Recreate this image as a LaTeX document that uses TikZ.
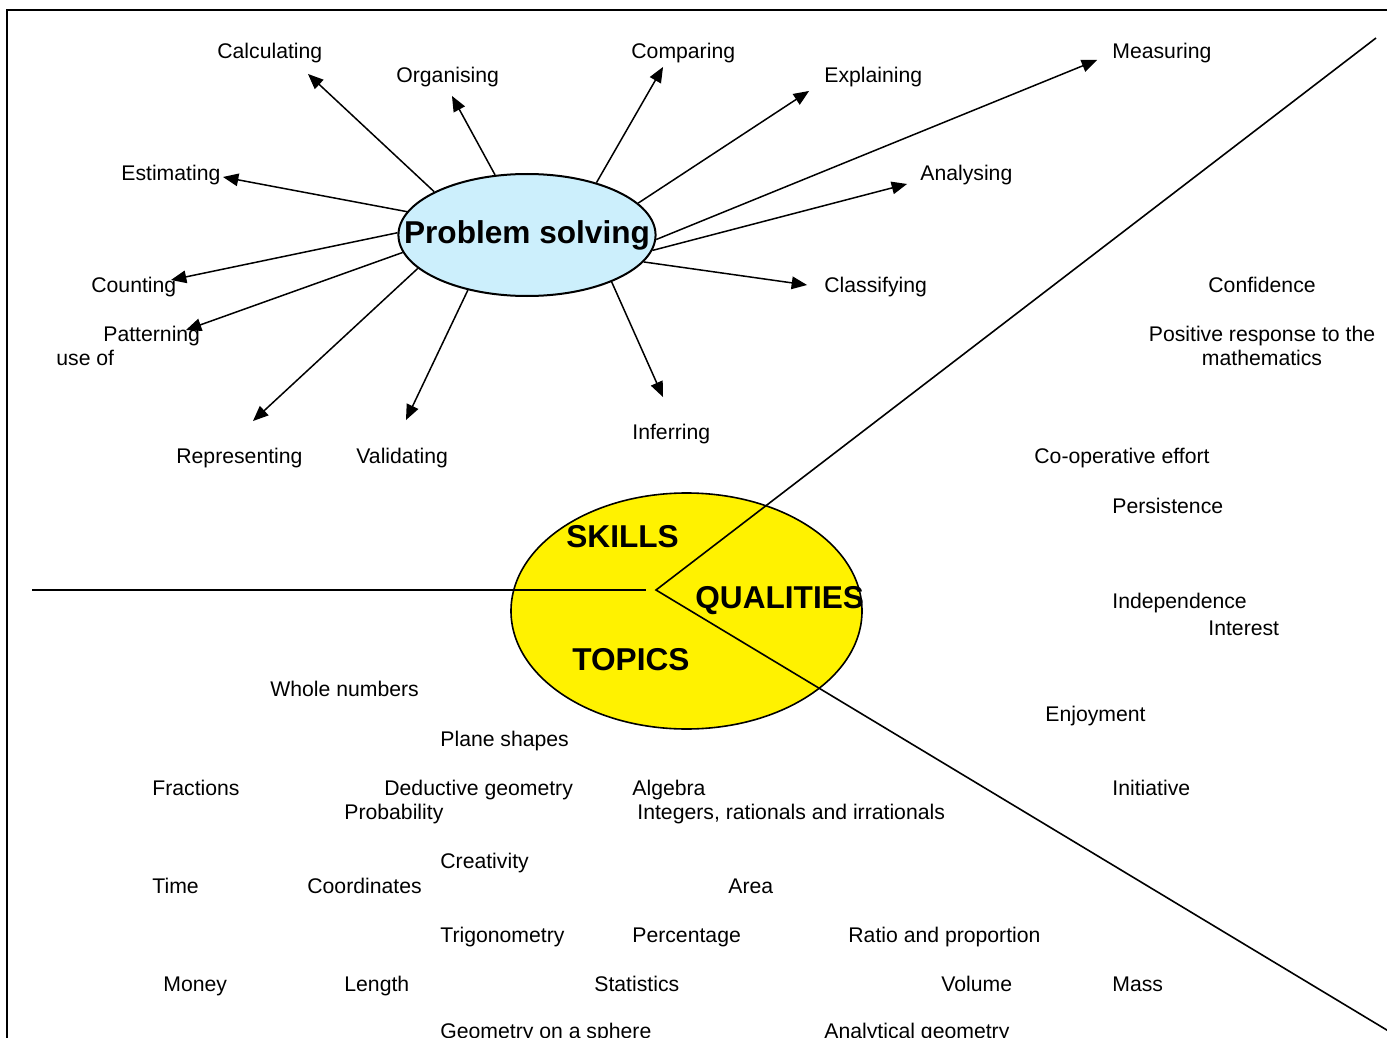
\documentclass[tikz,border=0pt]{standalone}
\usepackage{fontspec}
\setmainfont{Liberation Sans}
\usetikzlibrary{shapes}
\usetikzlibrary{arrows}
\tikzset{word/.style={inner sep=0pt, anchor=base west, font=\fontsize{10.6}{12}\selectfont},
hub/.style={ellipse, draw=black, line width=1pt, fill=cyan!20, inner xsep=-16pt, inner ysep=0pt,
minimum width=128.5pt, minimum height=61pt, font=\bfseries\fontsize{15.8}{16}\selectfont},
core/.style={ellipse, draw=black, line width=0.8pt, fill=yellow, inner sep=0pt,
minimum width=175.5pt, minimum height=118pt},
part/.style={inner sep=0pt, anchor=base west, font=\bfseries\fontsize{15.8}{16}\selectfont},
spoke/.style={->, line width=0.75pt},
split/.style={line width=0.8pt},
>={triangle 45}}
\begin{document}
\begin{tikzpicture}[x=0.5pt,y=-0.5pt]
  \useasboundingbox (0,0) rectangle (1387,1038);
  \clip (0,0) rectangle (1387,1038);
  \draw [line width=1pt] (7,10) rectangle (1420,1080);

  % the three parts
  \node (core) [core] at (686.5,611) {};
  \coordinate (apex) at (656,590);
  \coordinate (upEnd) at (1376,38);
  \coordinate (lowEnd) at (1420,1050);
  \draw [line width=1.2pt] (32,590) -- (646,590);
  \draw [split] (upEnd) -- (apex) -- (lowEnd);
  \node (skills) [part] at (566,547) {SKILLS};
  \node (qual) [part] at (695,608) {QUALITIES};
  \node (topics) [part] at (572,670) {TOPICS};

  % problem solving
  \node (ps) [hub] at (527,235) {Problem solving};
  \node (calc) [word] at (217,59) {Calculating};
  \node (org) [word] at (396,83) {Organising};
  \node (comp) [word] at (631,59) {Comparing};
  \node (expl) [word] at (824,83) {Explaining};
  \node (meas) [word] at (1112,59) {Measuring};
  \node (est) [word] at (121,181) {Estimating};
  \node (anal) [word] at (920,181) {Analysing};
  \node (count) [word] at (91,292) {Counting};
  \node (class) [word] at (824,292) {Classifying};
  \node (patt) [word] at (103,341) {Patterning};
  \node (useof) [word] at (56,365) {use of};
  \node (infer) [word] at (632,439) {Inferring};
  \node (repr) [word] at (176,463) {Representing};
  \node (valid) [word] at (356,463) {Validating};
  \coordinate (tCalc) at (308,74);
  \coordinate (tOrg) at (452,96);
  \coordinate (tComp) at (663,67);
  \coordinate (tExpl) at (809,91);
  \coordinate (tMeas) at (1097,60);
  \coordinate (tAnal) at (907,184);
  \coordinate (tClass) at (807,285);
  \coordinate (tInfer) at (663,397);
  \coordinate (tValid) at (406,420);
  \coordinate (tRepr) at (253,421);
  \coordinate (tPatt) at (186,330);
  \coordinate (tCount) at (171,280);
  \coordinate (tEst) at (223,177);
  \draw [spoke] (ps.155.5) -- (tCalc);
  \draw [spoke] (ps.118.5) -- (tOrg);
  \draw [spoke] (ps.37.6) -- (tComp);
  \draw [spoke] (ps.16.3) -- (tExpl);
  \draw [spoke] (ps.-2.2) -- (tMeas);
  \draw [spoke] (ps.-7.6) -- (tAnal);
  \draw [spoke] (ps.-13) -- (tClass);
  \draw [spoke] (ps.-29.7) -- (tInfer);
  \draw [spoke] (ps.-137.5) -- (tValid);
  \draw [spoke] (ps.197.1) -- (tRepr);
  \draw [spoke] (ps.188.8) -- (tPatt);
  \draw [spoke] (ps.179.6) -- (tCount);
  \draw [spoke] (ps.169.8) -- (tEst);

  % qualities
  \node (conf) [word] at (1208,292) {Confidence};
  \node (posr) [word, anchor=center, align=center] at (1262,346) {Positive response to the\\mathematics};
  \node (coop) [word] at (1034,463) {Co-operative effort};
  \node (pers) [word] at (1112,513) {Persistence};
  \node (indep) [word] at (1112,608) {Independence};
  \node (inter) [word] at (1208,635) {Interest};
  \node (enjoy) [word] at (1045,721) {Enjoyment};
  \node (init) [word] at (1112,795) {Initiative};

  % topics
  \node (whole) [word] at (270,696) {Whole numbers};
  \node (plane) [word] at (440,746) {Plane shapes};
  \node (frac) [word] at (152,795) {Fractions};
  \node (deduc) [word] at (384,795) {Deductive geometry};
  \node (alg) [word] at (632,795) {Algebra};
  \node (prob) [word] at (344,819) {Probability};
  \node (integ) [word] at (637,819) {Integers, rationals and irrationals};
  \node (creat) [word] at (440,868) {Creativity};
  \node (time) [word] at (152,893) {Time};
  \node (coord) [word] at (307,893) {Coordinates};
  \node (area) [word] at (728,893) {Area};
  \node (trig) [word] at (440,942) {Trigonometry};
  \node (perc) [word] at (632,942) {Percentage};
  \node (ratio) [word] at (848,942) {Ratio and proportion};
  \node (money) [word] at (163,991) {Money};
  \node (length) [word] at (344,991) {Length};
  \node (stat) [word] at (594,991) {Statistics};
  \node (vol) [word] at (941,991) {Volume};
  \node (mass) [word] at (1112,991) {Mass};
  \node (sphere) [word] at (440,1038) {Geometry on a sphere};
  \node (analy) [word] at (824,1038) {Analytical geometry};
\end{tikzpicture}
\end{document}
